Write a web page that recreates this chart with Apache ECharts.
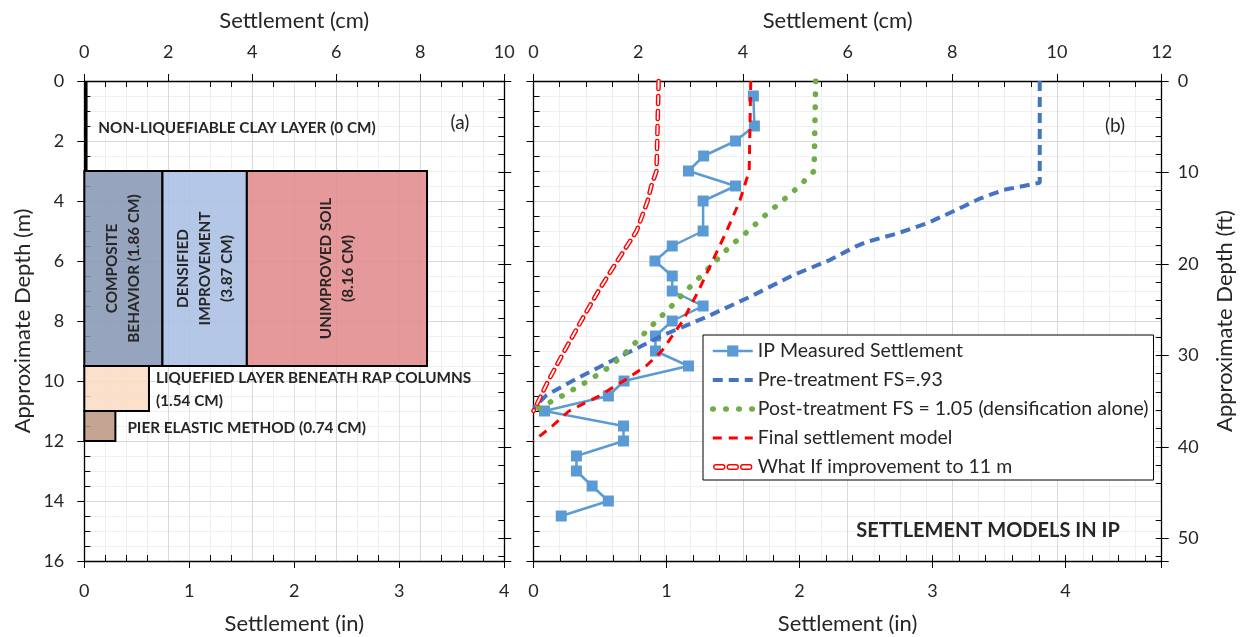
<!DOCTYPE html>
<html>
<head>
<meta charset="utf-8">
<script src="https://cdn.jsdelivr.net/npm/echarts@6/dist/echarts.min.js"></script>
<style>
  html, body { margin: 0; padding: 0; background: #ffffff; }
  #chart { width: 1241px; height: 637px; }
</style>
</head>
<body>
<div id="chart"></div>
<script>
// ---------- Panel (a): settlement contribution of each layer ----------
const layerNames = ['clay', 'composite', 'densified', 'unimproved', 'liquefied', 'pier'];
const layerLabels = [
  'NON-LIQUEFIABLE CLAY LAYER (0 CM)',
  'COMPOSITE\nBEHAVIOR (1.86 CM)',
  'DENSIFIED\nIMPROVEMENT\n(3.87 CM)',
  'UNIMPROVED SOIL\n(8.16 CM)',
  'LIQUEFIED LAYER BENEATH RAP COLUMNS\n(1.54 CM)',
  'PIER ELASTIC METHOD (0.74 CM)'
];
const layerStartCm = [0, 0, 1.86, 3.87, 0, 0];
const layerEndCm = [0, 1.86, 3.87, 8.16, 1.54, 0.74];
const layerTopM = [0, 3, 3, 3, 9.5, 11];
const layerBottomM = [3, 9.5, 9.5, 9.5, 11, 12];

// ---------- Panel (b): settlement profiles ----------
const ipDepthM = [0.5, 1.5, 2, 2.5, 3, 3.5, 4, 5, 5.5, 6, 6.5, 7, 7.5, 8, 8.5, 9, 9.5, 10, 10.5, 11, 11.5, 12, 12.5, 13, 13.5, 14, 14.5];
const ipSettlementCm = [4.20, 4.22, 3.86, 3.25, 2.96, 3.86, 3.24, 3.24, 2.65, 2.32, 2.65, 2.65, 3.24, 2.65, 2.33, 2.33, 2.96, 1.73, 1.43, 0.21, 1.72, 1.72, 0.82, 0.82, 1.12, 1.43, 0.53];

const preDepthM = [0, 3.39, 3.63, 3.91, 4.36, 4.74, 5.08, 5.36, 5.52, 5.97, 6.47, 7.19, 7.86, 8.47, 9.19, 9.86, 10.47, 10.9];
const preSettlementCm = [9.67, 9.67, 8.98, 8.54, 8.0, 7.52, 6.95, 6.37, 6.15, 5.66, 4.96, 4.14, 3.31, 2.48, 1.65, 0.89, 0.25, 0];

const postDepthM = [0, 3.0, 3.5, 4.0, 4.5, 5.0, 5.5, 6.0, 6.5, 7.0, 7.5, 8.0, 8.5, 9.0, 9.5, 10.0, 10.5, 11.0];
const postSettlementCm = [5.39, 5.36, 5.08, 4.75, 4.41, 4.10, 3.76, 3.48, 3.20, 2.91, 2.64, 2.35, 2.07, 1.79, 1.48, 1.04, 0.54, 0];

const finalDepthM = [0, 3.0, 4.0, 5.0, 6.0, 7.0, 8.0, 9.0, 9.5, 10.0, 10.5, 11.0, 11.5, 12.0];
const finalSettlementCm = [4.15, 4.12, 3.94, 3.69, 3.42, 3.15, 2.85, 2.45, 2.15, 1.72, 1.25, 0.68, 0.36, 0];

const whatIfDepthM = [0, 3.0, 3.5, 4.0, 5.0, 6.0, 7.0, 8.0, 9.0, 10.0, 11.0];
const whatIfSettlementCm = [2.39, 2.35, 2.25, 2.18, 1.97, 1.60, 1.24, 0.91, 0.59, 0.28, 0];

const seriesNames = [
  'IP Measured Settlement',
  'Pre-treatment FS=.93',
  'Post-treatment FS = 1.05 (densification alone)',
  'Final settlement model',
  'What If improvement to 11 m'
];

// ---------- Axis ranges ----------
const depthMaxM = 16;
const depthMaxFt = depthMaxM / 0.3048;
const panelACmMax = 10, panelAInMax = 4;
const panelBCmMax = 12, panelBInMax = panelBCmMax / 2.54;

// ---------- Styling ----------
const FONT = 'Lato';
const TEXT = '#262626';
const AXIS = '#000000';
const GRID_MAJOR = '#d9d9d9';
const GRID_MINOR = '#efefef';

const layerStyle = {
  clay:       { mode: 'edge' },
  composite:  { mode: 'vertical', fill: 'rgba(133,148,177,0.85)' },
  densified:  { mode: 'vertical', fill: 'rgba(167,189,227,0.85)' },
  unimproved: { mode: 'vertical', fill: 'rgba(226,135,136,0.85)' },
  liquefied:  { mode: 'rightTop', fill: 'rgba(250,219,195,0.85)' },
  pier:       { mode: 'rightMiddle', fill: 'rgba(186,149,129,0.85)' }
};

const profileStyles = [
  { color: '#5b9bd5', width: 2.5, type: 'solid' },
  { color: '#4472c4', width: 4, type: [10, 6] },
  { color: '#70ad47', width: 5.5, type: [0.5, 12.5], cap: 'round' },
  { color: '#ff0000', width: 3, type: [9, 7] },
  { color: '#ff0000', width: 4.6, type: [8, 7], cap: 'round' }
];

const pairs = (xs, ys) => xs.map((x, i) => [x, ys[i]]);
const intLabel = v => (Math.abs(v - Math.round(v)) < 1e-6 ? String(Math.round(v)) : '');

// Each side of a panel uses two overlaid axes: the minor one carries inward
// ticks (and light grid lines), the main one carries the axis line, outward
// ticks, labels and the heavier grid lines, giving crossing major ticks.
function minorAxis(gridIndex, position, max, step, gridColor) {
  const vertical = position === 'left' || position === 'right';
  return {
    type: 'value', gridIndex, position, min: 0, max, interval: step,
    inverse: vertical,
    axisLine: { show: false, onZero: false },
    axisTick: { show: true, inside: true, length: 6, lineStyle: { color: AXIS, width: 1 } },
    axisLabel: { show: false },
    splitLine: gridColor ? { show: true, lineStyle: { color: gridColor, width: 1 } } : { show: false },
    minorTick: { show: false },
    z: 0
  };
}
function mainAxis(gridIndex, position, max, step, extra) {
  const vertical = position === 'left' || position === 'right';
  return Object.assign({
    type: 'value', gridIndex, position, min: 0, max, interval: step,
    inverse: vertical,
    axisLine: { show: true, onZero: false, lineStyle: { color: AXIS, width: 1.3 } },
    axisTick: { show: true, inside: false, length: 7, lineStyle: { color: AXIS, width: 1 } },
    axisLabel: { show: false },
    splitLine: { show: false },
    nameMoveOverlap: false,
    z: 1
  }, extra || {});
}
const labelStyle = (margin) => ({
  show: true, color: TEXT, fontFamily: FONT, fontSize: 18, margin, formatter: intLabel
});
const nameStyle = { color: TEXT, fontFamily: FONT, fontSize: 22 };

const xAxes = [
  // panel (a)
  minorAxis(0, 'top', panelACmMax, 0.5, GRID_MINOR),
  mainAxis(0, 'top', panelACmMax, 2, {
    axisLabel: labelStyle(20), splitLine: { show: true, lineStyle: { color: GRID_MAJOR } },
    name: 'Settlement (cm)', nameLocation: 'middle', nameGap: 49, nameTextStyle: nameStyle
  }),
  minorAxis(0, 'bottom', panelAInMax, 0.2, null),
  mainAxis(0, 'bottom', panelAInMax, 1, {
    axisLabel: labelStyle(21), splitLine: { show: true, lineStyle: { color: '#e3e3e3' } },
    name: 'Settlement (in)', nameLocation: 'middle', nameGap: 52, nameTextStyle: nameStyle
  }),
  // panel (b)
  minorAxis(1, 'top', panelBCmMax, 0.5, GRID_MINOR),
  mainAxis(1, 'top', panelBCmMax, 2, {
    axisLabel: labelStyle(20), splitLine: { show: true, lineStyle: { color: GRID_MAJOR } },
    name: 'Settlement (cm)', nameLocation: 'middle', nameGap: 49,
    nameTextStyle: Object.assign({ padding: [0, 20, 0, 0] }, nameStyle)
  }),
  minorAxis(1, 'bottom', panelBInMax, 0.2, null),
  mainAxis(1, 'bottom', panelBInMax, 1, {
    axisLabel: labelStyle(21),
    name: 'Settlement (in)', nameLocation: 'middle', nameGap: 52, nameTextStyle: nameStyle
  })
];

const yAxes = [
  // panel (a)
  minorAxis(0, 'left', depthMaxM, 0.5, GRID_MINOR),
  mainAxis(0, 'left', depthMaxM, 2, {
    axisLabel: labelStyle(20), splitLine: { show: true, lineStyle: { color: GRID_MAJOR } },
    name: 'Approximate Depth (m)', nameLocation: 'middle', nameRotate: 90, nameGap: 50, nameTextStyle: nameStyle
  }),
  minorAxis(0, 'right', depthMaxFt, 2, null),
  mainAxis(0, 'right', depthMaxFt, 10, {}),
  // panel (b)
  minorAxis(1, 'left', depthMaxM, 0.5, GRID_MINOR),
  mainAxis(1, 'left', depthMaxM, 2, {
    splitLine: { show: true, lineStyle: { color: GRID_MAJOR } }
  }),
  minorAxis(1, 'right', depthMaxFt, 2, null),
  mainAxis(1, 'right', depthMaxFt, 10, {
    axisLabel: labelStyle(16),
    name: 'Approximate Depth (ft)', nameLocation: 'middle', nameRotate: 90, nameGap: 52, nameTextStyle: nameStyle
  })
];

// Layer blocks of panel (a), drawn through the cm / m axes
const layerSeries = {
  type: 'custom',
  name: 'layers',
  coordinateSystem: 'cartesian2d',
  xAxisIndex: 1, yAxisIndex: 1,
  silent: true,
  data: layerNames.map((n, i) => [layerStartCm[i], layerEndCm[i], layerTopM[i], layerBottomM[i]]),
  encode: { x: [0, 1], y: [2, 3] },
  renderItem: function (params, api) {
    const i = params.dataIndex;
    const st = layerStyle[layerNames[i]];
    const tl = api.coord([api.value(0), api.value(2)]);
    const br = api.coord([api.value(1), api.value(3)]);
    const children = [];
    const boldFont = { fontFamily: FONT, fontWeight: 'bold', fontSize: 15.3, fill: TEXT };
    if (st.mode === 'edge') {
      children.push({
        type: 'line',
        shape: { x1: tl[0] + 1.5, y1: tl[1], x2: tl[0] + 1.5, y2: br[1] },
        style: { stroke: '#000', lineWidth: 3.5 }
      });
      children.push({
        type: 'text', x: tl[0] + 14, y: (tl[1] + br[1]) / 2 + 2,
        style: Object.assign({ text: layerLabels[i], align: 'left', verticalAlign: 'middle' }, boldFont)
      });
    } else {
      children.push({
        type: 'rect',
        shape: { x: tl[0], y: tl[1], width: br[0] - tl[0], height: br[1] - tl[1] },
        style: { fill: st.fill, stroke: '#000', lineWidth: 2 }
      });
      if (st.mode === 'vertical') {
        children.push({
          type: 'text', x: (tl[0] + br[0]) / 2, y: (tl[1] + br[1]) / 2, rotation: Math.PI / 2,
          style: Object.assign({ text: layerLabels[i], align: 'center', verticalAlign: 'middle', lineHeight: 22 }, boldFont)
        });
      } else if (st.mode === 'rightTop') {
        children.push({
          type: 'text', x: br[0] + 7, y: tl[1] + 1,
          style: Object.assign({ text: layerLabels[i], align: 'left', verticalAlign: 'top', lineHeight: 23 }, boldFont)
        });
      } else {
        children.push({
          type: 'text', x: br[0] + 12, y: (tl[1] + br[1]) / 2 + 2,
          style: Object.assign({ text: layerLabels[i], align: 'left', verticalAlign: 'middle' }, boldFont)
        });
      }
    }
    return { type: 'group', children };
  },
  z: 3
};

const bAxes = { xAxisIndex: 5, yAxisIndex: 5 };
const profileData = [
  pairs(ipSettlementCm, ipDepthM),
  pairs(preSettlementCm, preDepthM),
  pairs(postSettlementCm, postDepthM),
  pairs(finalSettlementCm, finalDepthM),
  pairs(whatIfSettlementCm, whatIfDepthM)
];
const profileSeries = seriesNames.map((name, i) => Object.assign({
  name, type: 'line', data: profileData[i],
  symbol: i === 0 ? 'rect' : 'none', symbolSize: 11,
  lineStyle: profileStyles[i], itemStyle: { color: profileStyles[i].color },
  z: i === 0 ? 3 : 4
}, bAxes));
// hollow core of the "what if" dashes
profileSeries.push(Object.assign({
  name: 'whatIfCore', type: 'line', data: profileData[4], symbol: 'none', silent: true,
  lineStyle: { color: '#ffffff', width: 1.8, type: [8, 7], cap: 'round' }, z: 5
}, bAxes));

const hollowDashIcon = 'image://data:image/svg+xml;utf8,' + encodeURIComponent(
  '<svg xmlns="http://www.w3.org/2000/svg" width="40" height="14" viewBox="0 0 40 14">' +
  '<g fill="#fff" stroke="#ff0000" stroke-width="1.4">' +
  '<rect x="1" y="4.8" width="11" height="4.4" rx="2.2"/>' +
  '<rect x="14.5" y="4.8" width="11" height="4.4" rx="2.2"/>' +
  '<rect x="28" y="4.8" width="11" height="4.4" rx="2.2"/>' +
  '</g></svg>');

// Legend entries keep each series' own stroke; line-only series hide the marker
const hiddenMarker = { color: 'rgba(0,0,0,0)', borderWidth: 0, opacity: 0 };
const legendData = seriesNames.map((n, i) => {
  const s = profileStyles[i];
  if (i === 4) return { name: n, icon: hollowDashIcon };
  const item = { name: n, lineStyle: { color: s.color, width: s.width, type: s.type, cap: s.cap || 'butt' } };
  if (i !== 0) item.itemStyle = hiddenMarker;
  return item;
});

const option = {
  animation: false,
  backgroundColor: '#ffffff',
  textStyle: { fontFamily: FONT },
  grid: [
    { left: 84.3, top: 81, width: 420, height: 480, containLabel: false, outerBoundsMode: 'none' },
    { left: 533.5, top: 81, width: 628.2, height: 480, containLabel: false, outerBoundsMode: 'none' }
  ],
  xAxis: xAxes,
  yAxis: yAxes,
  legend: {
    data: legendData,
    orient: 'vertical',
    left: 703, top: 335,
    padding: [6, 5, 3, 7],
    itemGap: 9, itemWidth: 40, itemHeight: 14,
    backgroundColor: '#ffffff', borderColor: '#000', borderWidth: 1, borderRadius: 0,
    selectedMode: false,
    lineStyle: { width: 'inherit' },
    textStyle: { fontFamily: FONT, fontSize: 19.5, color: TEXT, lineHeight: 20 }
  },
  graphic: [
    { type: 'text', x: 460, y: 123, z: 100, style: { text: '(a)', fill: TEXT, fontFamily: FONT, fontSize: 19, align: 'center', verticalAlign: 'middle' } },
    { type: 'text', x: 1115, y: 126, z: 100, style: { text: '(b)', fill: TEXT, fontFamily: FONT, fontSize: 19, align: 'center', verticalAlign: 'middle' } },
    { type: 'text', x: 988, y: 531, z: 100, style: { text: 'SETTLEMENT MODELS IN IP', fill: TEXT, fontFamily: FONT, fontWeight: 'bold', fontSize: 20, align: 'center', verticalAlign: 'middle' } }
  ],
  series: [layerSeries].concat(profileSeries)
};

const chart = echarts.init(document.getElementById('chart'), null, { renderer: 'canvas' });
chart.setOption(option);
</script>
</body>
</html>
